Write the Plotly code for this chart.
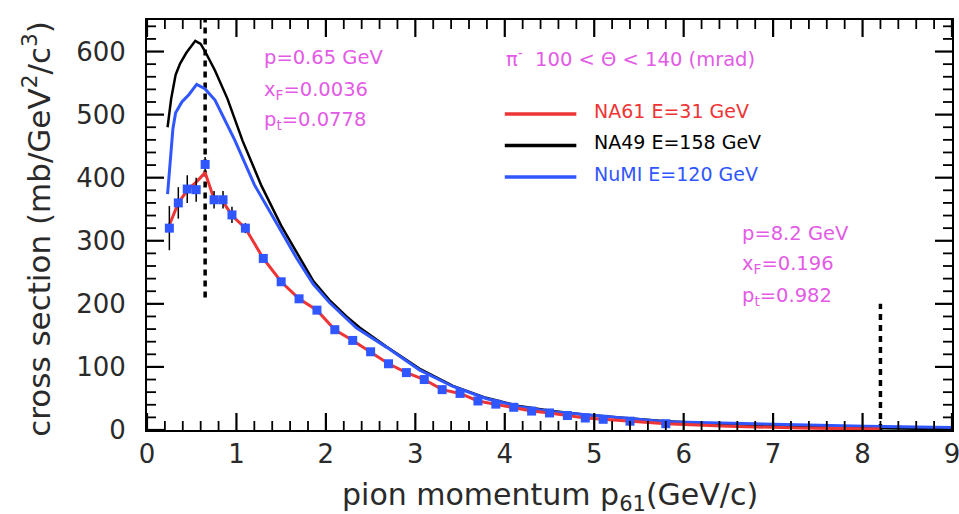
import plotly.graph_objects as go

# NA61 pi- data points, 100 < theta < 140 mrad
na61_p = [0.25, 0.35, 0.45, 0.55, 0.65, 0.75, 0.85, 0.95, 1.1, 1.3, 1.5, 1.7, 1.9, 2.1, 2.3,
          2.5, 2.7, 2.9, 3.1, 3.3, 3.5, 3.7, 3.9, 4.1, 4.3, 4.5, 4.7, 4.9, 5.1, 5.4, 5.8]
na61_xs = [320, 360, 382, 381, 421, 365, 365, 341, 320, 272, 235, 208, 190, 159, 142,
           124, 105, 91, 80, 64, 58, 46, 41, 36, 30, 27, 23, 19, 17, 14, 10]
na61_err = [35, 25, 22, 19, 12, 14, 14, 13, 8, 6, 5, 5, 4, 4, 4,
            3, 3, 3, 3, 3, 2, 2, 2, 2, 2, 2, 2, 2, 2, 2, 2]

# NA61 E=31 GeV curve
na61_line_p = [0.25, 0.35, 0.45, 0.55, 0.65, 0.75, 0.85, 0.95, 1.1, 1.3, 1.5, 1.7, 1.9, 2.1, 2.3,
               2.5, 2.7, 2.9, 3.1, 3.3, 3.5, 3.7, 3.9, 4.1, 4.3, 4.5, 4.7, 4.9, 5.1, 5.4, 5.8,
               6.5, 7.3, 8.2]
na61_line_xs = [325, 360, 380, 393, 408, 366, 362, 340, 320, 272, 235, 208, 190, 159, 142,
                124, 105, 91, 80, 64, 58, 46, 41, 36, 30, 27, 23, 19, 17, 14, 10,
                6, 3, 1.5]

# NA49 E=158 GeV curve
na49_p = [0.23, 0.27, 0.32, 0.37, 0.44, 0.54, 0.60, 0.65, 0.76, 0.90, 1.07, 1.28, 1.50, 1.67,
          1.86, 2.04, 2.23, 2.38, 2.68, 3.05, 3.42, 3.79, 4.16, 4.53, 4.91, 5.28, 5.8, 6.5,
          7.3, 8.0, 8.6, 9.0]
na49_xs = [480, 525, 563, 581, 598, 617, 612, 600, 570, 525, 458, 387, 324, 282,
           236, 206, 180, 162, 132, 97, 70, 51, 38, 30, 24, 20, 14, 9,
           6, 3, 2, 1.5]

# NuMI E=120 GeV curve
numi_p = [0.23, 0.26, 0.29, 0.32, 0.39, 0.47, 0.555, 0.647, 0.76, 0.98, 1.2, 1.465, 1.67,
          1.86, 2.04, 2.34, 2.68, 3.05, 3.42, 3.79, 4.16, 4.53, 4.91, 5.28, 5.8, 6.54,
          7.29, 8.03, 9.0]
numi_xs = [374, 430, 478, 503, 520, 532, 548, 541, 523, 460, 389, 324, 273,
           231, 202, 162, 131, 95, 69, 50, 37, 29, 24, 20, 13, 10.6,
           8, 6, 4]

# reference momenta marked with dashed lines
mark_p = [0.65, 8.2]
mark_lo = [210, 0]
mark_hi = [650, 200]

# axis ranges and tick spacing
X_MAX, X_MAJOR, X_MINOR = 9, 1.0, 0.2
Y_MAX, Y_MAJOR, Y_MINOR = 650, 100, 20

RED = "#ee3535"
BLUE = "#3056ff"
MAGENTA = "#e35ae6"
FONT = "DejaVu Sans"
AXIS_TEXT = "#2a2a2a"
TICK = "#000000"

# plot area size in pixels, used to turn tick lengths into axis units
PLOT_W, PLOT_H = 805, 410
MAJOR_LEN, MINOR_LEN = 17, 9

fig = go.Figure()

for p, lo, hi in zip(mark_p, mark_lo, mark_hi):
    fig.add_trace(go.Scatter(x=[p, p], y=[lo, hi], mode="lines",
                             line=dict(color="black", width=3.5, dash="6px,5px"),
                             showlegend=False, hoverinfo="skip"))

fig.add_trace(go.Scatter(x=na49_p, y=na49_xs, mode="lines",
                         line=dict(color="black", width=2.5),
                         showlegend=False))
fig.add_trace(go.Scatter(x=numi_p, y=numi_xs, mode="lines",
                         line=dict(color=BLUE, width=3),
                         showlegend=False))
fig.add_trace(go.Scatter(x=na61_line_p, y=na61_line_xs, mode="lines",
                         line=dict(color=RED, width=3),
                         showlegend=False))
fig.add_trace(go.Scatter(x=na61_p, y=na61_xs, mode="markers",
                         marker=dict(symbol="square", size=9, color=BLUE),
                         error_y=dict(type="data", array=na61_err, color="black",
                                      thickness=1.5, width=0),
                         showlegend=False))


# inward tick marks on all four sides of the frame, drawn as line segments
def tick_segments(major):
    xs, ys = [], []
    x_len = (MAJOR_LEN if major else MINOR_LEN) * Y_MAX / PLOT_H
    y_len = (MAJOR_LEN if major else MINOR_LEN) * X_MAX / PLOT_W
    n = int(round(X_MAX / X_MINOR))
    every = int(round(X_MAJOR / X_MINOR))
    for i in range(n + 1):
        if (i % every == 0) != major:
            continue
        v = i * X_MINOR
        xs += [v, v, None, v, v, None]
        ys += [0, x_len, None, Y_MAX, Y_MAX - x_len, None]
    n = int(Y_MAX // Y_MINOR)
    every = int(round(Y_MAJOR / Y_MINOR))
    for i in range(n + 1):
        if (i % every == 0) != major:
            continue
        v = i * Y_MINOR
        xs += [0, y_len, None, X_MAX, X_MAX - y_len, None]
        ys += [v, v, None, v, v, None]
    return xs, ys


for major, w in ((True, 2.2), (False, 1.8)):
    tx, ty = tick_segments(major)
    fig.add_trace(go.Scatter(x=tx, y=ty, mode="lines", line=dict(color=TICK, width=w),
                             connectgaps=False, showlegend=False, hoverinfo="skip",
                             cliponaxis=False))

# legend drawn as line samples with coloured labels
legend_rows = [("NA61 E=31 GeV", RED, 501), ("NA49 E=158 GeV", "black", 451),
               ("NuMI E=120 GeV", BLUE, 401)]
for label, col, yv in legend_rows:
    fig.add_shape(type="line", xref="x", yref="y", x0=4.0, x1=4.8, y0=yv, y1=yv,
                  line=dict(color=col, width=3.5))
    fig.add_annotation(x=4.98, y=yv + 5, xref="x", yref="y", text=label, showarrow=False,
                       xanchor="left", yanchor="middle",
                       font=dict(family=FONT, size=19, color=col))

texts = [
    (1.29, 590, "p=0.65 GeV"),
    (1.29, 539, "x<sub>F</sub>=0.0036"),
    (1.29, 490, "p<sub>t</sub>=0.0778"),
    (3.99, 590, "π<sup>-</sup>  100 &lt; Θ &lt; 140 (mrad)"),
    (6.63, 312, "p=8.2 GeV"),
    (6.63, 262, "x<sub>F</sub>=0.196"),
    (6.63, 212, "p<sub>t</sub>=0.982"),
]
for xv, yv, t in texts:
    fig.add_annotation(x=xv, y=yv, xref="x", yref="y", text=t, showarrow=False,
                       xanchor="left", yanchor="middle",
                       font=dict(family=FONT, size=19.5, color=MAGENTA))

# axis titles
fig.add_annotation(x=0.5, y=-0.163, xref="paper", yref="paper",
                   text="pion momentum p<sub>61</sub>(GeV/c)", showarrow=False,
                   xanchor="center", yanchor="middle",
                   font=dict(family=FONT, size=30, color=AXIS_TEXT))
fig.add_annotation(x=-0.137, y=0.49, xref="paper", yref="paper", textangle=-90,
                   text="cross section (mb/GeV<sup>2</sup>/c<sup>3</sup>)", showarrow=False,
                   xanchor="center", yanchor="middle",
                   font=dict(family=FONT, size=31, color=AXIS_TEXT))

fig.update_layout(
    template="none",
    width=959, height=514, margin=dict(l=147, r=7, t=20, b=84),
    plot_bgcolor="white", paper_bgcolor="white",
    xaxis=dict(
        range=[0, X_MAX], dtick=X_MAJOR, tick0=0, automargin=False,
        ticklabeloverflow="allow",
        showline=True, linecolor="black", linewidth=2, mirror=True,
        ticks="", showgrid=False, zeroline=False,
        tickfont=dict(family=FONT, size=26, color=AXIS_TEXT),
    ),
    yaxis=dict(
        range=[0, Y_MAX], dtick=Y_MAJOR, tick0=0, automargin=False,
        showline=True, linecolor="black", linewidth=2, mirror=True,
        ticks="", showgrid=False, zeroline=False, ticklabelstandoff=14,
        tickfont=dict(family=FONT, size=26, color=AXIS_TEXT),
    ),
)

fig.write_html("out.html")
